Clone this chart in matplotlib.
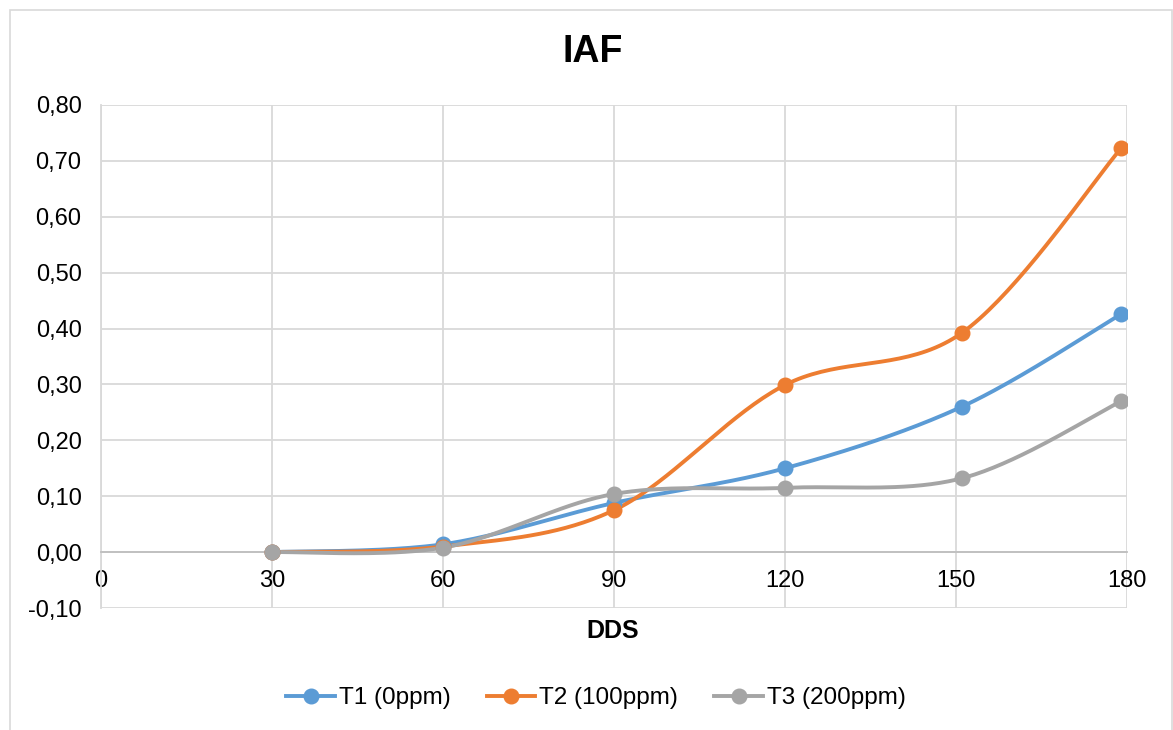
import matplotlib
matplotlib.use("Agg")
import matplotlib.pyplot as plt
from matplotlib.patches import Rectangle
from matplotlib.ticker import FuncFormatter, MultipleLocator
import numpy as np

plt.rcParams['font.family'] = ['Liberation Sans', 'DejaVu Sans']

# data
dds = [30, 60, 90, 120, 151, 179]
t1 = [0.000, 0.014, 0.088, 0.150, 0.260, 0.426]
t2 = [0.000, 0.010, 0.075, 0.299, 0.392, 0.723]
t3 = [0.000, 0.008, 0.104, 0.115, 0.132, 0.270]
labels = ['T1 (0ppm)', 'T2 (100ppm)', 'T3 (200ppm)']
colors = ['#5B9BD5', '#ED7D31', '#A5A5A5']


def smooth(x, y, n=40):
    # Excel-like smoothed line: Catmull-Rom style cubic bezier segments
    x = np.asarray(x, float)
    y = np.asarray(y, float)
    px = np.concatenate([[x[0]], x, [x[-1]]])
    py = np.concatenate([[y[0]], y, [y[-1]]])
    t = np.linspace(0, 1, n)[:, None]
    xs, ys = [], []
    for i in range(1, len(px) - 2):
        p0 = np.array([px[i], py[i]])
        p3 = np.array([px[i + 1], py[i + 1]])
        c1 = p0 + (np.array([px[i + 1], py[i + 1]]) - np.array([px[i - 1], py[i - 1]])) / 6
        c2 = p3 - (np.array([px[i + 2], py[i + 2]]) - np.array([px[i], py[i]])) / 6
        pts = ((1 - t) ** 3) * p0 + 3 * ((1 - t) ** 2) * t * c1 + 3 * (1 - t) * t ** 2 * c2 + t ** 3 * p3
        xs.append(pts[:, 0])
        ys.append(pts[:, 1])
    return np.concatenate(xs), np.concatenate(ys)


fig = plt.figure(figsize=(11.73, 7.30), dpi=100)
ax = fig.add_axes([101 / 1173, 1 - 608 / 730, (1127 - 101) / 1173, (608 - 105) / 730])

for ys, lab, c in zip([t1, t2, t3], labels, colors):
    sx, sy = smooth(dds, ys)
    ax.plot(sx, sy, color=c, lw=2.8, solid_capstyle='round', zorder=3)
    ax.plot(dds, ys, 'o', color=c, ms=10.5, zorder=4)
    ax.plot([], [], '-o', color=c, lw=2.8, ms=10.5, label=lab)

ax.set_xlim(0, 180)
ax.set_ylim(-0.10, 0.80)
ax.xaxis.set_major_locator(MultipleLocator(30))
ax.yaxis.set_major_locator(MultipleLocator(0.10))
ax.yaxis.set_major_formatter(FuncFormatter(lambda v, p: f"{v:.2f}".replace('.', ',')))
ax.grid(True, color='#D9D9D9', lw=1.3)
ax.set_axisbelow(True)

for s in ['top', 'right']:
    ax.spines[s].set_visible(False)
ax.spines['bottom'].set_position(('data', 0))
ax.spines['bottom'].set_color('#BFBFBF')
ax.spines['left'].set_color('#D9D9D9')
ax.spines['bottom'].set_linewidth(1.3)
ax.spines['left'].set_linewidth(1.3)
ax.tick_params(axis='both', length=0, labelsize=17, colors='#000000')
ax.tick_params(axis='x', pad=13)
ax.tick_params(axis='y', pad=14)

fig.text(593 / 1173, 1 - 52 / 730, 'IAF', ha='center', va='center',
         fontsize=27, fontweight='bold')
fig.text(613 / 1173, 1 - 631 / 730, 'DDS', ha='center', va='center',
         fontsize=18, fontweight='bold')

fig.legend(loc='center', bbox_to_anchor=(596 / 1173, 1 - 698 / 730), ncol=3, frameon=False,
           fontsize=17.5, handlelength=2.0, columnspacing=1.5, handletextpad=0.15)

fig.patches.append(Rectangle((10 / 1173, -0.01), 1162 / 1173, 1 - 10 / 730 + 0.01,
                             transform=fig.transFigure, fill=False, edgecolor='#D9D9D9', lw=1.2))

fig.savefig('out.png', dpi=100)
